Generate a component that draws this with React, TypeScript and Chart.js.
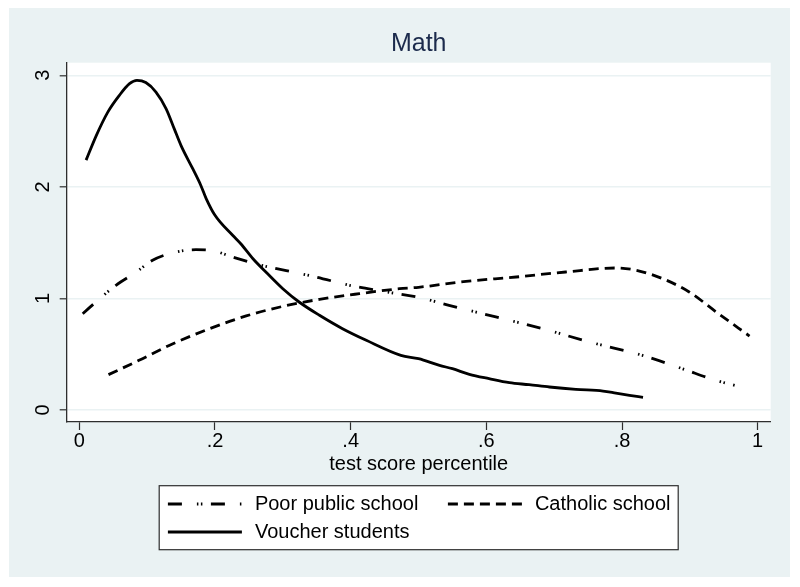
import React, { useEffect, useRef } from 'react';
import { Chart, registerables } from 'chart.js';

Chart.register(...registerables);

const FONT = "'Liberation Sans', Arial, Helvetica, sans-serif";

const TITLE = 'Math';
const X_TITLE = 'test score percentile';
const X_TICKS = [0, 0.2, 0.4, 0.6, 0.8, 1];
const X_TICK_LABELS = ['0', '.2', '.4', '.6', '.8', '1'];
const Y_TICKS = [0, 1, 2, 3];
const Y_TICK_LABELS = ['0', '1', '2', '3'];
const SERIES_LABELS = ['Poor public school', 'Catholic school', 'Voucher students'];

const poorX = [0.005, 0.03, 0.054, 0.084, 0.108, 0.138, 0.172, 0.197, 0.226, 0.265, 0.305, 0.349, 0.398, 0.447, 0.5, 0.545, 0.614, 0.683, 0.752, 0.83, 0.889, 0.938, 0.966];
const poorY = [0.863, 0.998, 1.118, 1.237, 1.342, 1.41, 1.437, 1.428, 1.371, 1.302, 1.249, 1.192, 1.118, 1.064, 1.01, 0.938, 0.834, 0.729, 0.61, 0.49, 0.37, 0.266, 0.221];

const catholicX = [0.043, 0.088, 0.138, 0.192, 0.246, 0.3, 0.354, 0.413, 0.472, 0.5, 0.57, 0.644, 0.717, 0.791, 0.821, 0.86, 0.899, 0.939, 0.988];
const catholicY = [0.317, 0.445, 0.594, 0.729, 0.843, 0.929, 0.992, 1.043, 1.087, 1.1, 1.153, 1.192, 1.237, 1.273, 1.252, 1.177, 1.058, 0.878, 0.663];

const voucherX = [0.01, 0.025, 0.042, 0.059, 0.074, 0.085, 0.098, 0.113, 0.128, 0.14, 0.15, 0.167, 0.179, 0.187, 0.2, 0.226, 0.238, 0.256, 0.275, 0.3, 0.324, 0.354, 0.388, 0.423, 0.474, 0.5, 0.531, 0.55, 0.575, 0.604, 0.634, 0.663, 0.693, 0.732, 0.772, 0.791, 0.811, 0.831];
const voucherY = [2.24, 2.46, 2.67, 2.82, 2.925, 2.955, 2.935, 2.85, 2.7, 2.52, 2.37, 2.165, 2.015, 1.895, 1.745, 1.566, 1.49, 1.356, 1.237, 1.087, 0.968, 0.849, 0.729, 0.625, 0.49, 0.46, 0.4, 0.37, 0.32, 0.281, 0.245, 0.227, 0.206, 0.185, 0.17, 0.152, 0.132, 0.114];

const LINE_W = 2.8;
const AXIS_COLOR = '#2e2e2e';
const BG = '#eaf2f3';

const toPoints = (xs: number[], ys: number[]) => xs.map((x, i) => ({ x, y: ys[i] }));

const bgPlugin = {
  id: 'stataBg',
  beforeDraw(chart: any) {
    const { ctx, chartArea, width, height } = chart;
    ctx.save();
    ctx.fillStyle = '#ffffff';
    ctx.fillRect(0, 0, width, height);
    ctx.fillStyle = BG;
    ctx.fillRect(9, 8, width - 19, height - 18);
    ctx.fillStyle = '#ffffff';
    ctx.fillRect(chartArea.left, chartArea.top, chartArea.right - chartArea.left, chartArea.bottom - chartArea.top);
    ctx.restore();
  },
};

const titlePlugin = {
  id: 'stataTitle',
  afterDraw(chart: any) {
    const { ctx, chartArea } = chart;
    ctx.save();
    ctx.fillStyle = '#1c2b4c';
    ctx.font = `25px ${FONT}`;
    ctx.textAlign = 'center';
    ctx.textBaseline = 'middle';
    ctx.fillText(TITLE, (chartArea.left + chartArea.right) / 2, chartArea.top - 18.5);
    ctx.restore();
  },
};

const legendPlugin = {
  id: 'stataLegend',
  afterDraw(chart: any) {
    const { ctx, chartArea } = chart;
    const cx = (chartArea.left + chartArea.right) / 2;
    const boxW = 519;
    const boxH = 64;
    const left = cx - boxW / 2;
    const top = chartArea.bottom + 63.7;
    ctx.save();
    ctx.fillStyle = '#ffffff';
    ctx.fillRect(left, top, boxW, boxH);
    ctx.strokeStyle = AXIS_COLOR;
    ctx.lineWidth = 1.2;
    ctx.setLineDash([]);
    ctx.strokeRect(left, top, boxW, boxH);
    chart.data.datasets.forEach((ds: any, i: number) => {
      const col = i % 2;
      const row = Math.floor(i / 2);
      const x0 = left + 8.7 + col * 280;
      const y = top + 18.3 + row * 28;
      ctx.setLineDash(ds.borderDash || []);
      ctx.lineDashOffset = 0;
      ctx.lineWidth = ds.borderWidth;
      ctx.strokeStyle = ds.borderColor;
      ctx.lineCap = 'butt';
      ctx.beginPath();
      ctx.moveTo(x0, y);
      ctx.lineTo(x0 + 74, y);
      ctx.stroke();
      ctx.setLineDash([]);
      ctx.fillStyle = '#000000';
      ctx.font = `20px ${FONT}`;
      ctx.textAlign = 'left';
      ctx.textBaseline = 'middle';
      ctx.fillText(ds.label, x0 + 87, y);
    });
    ctx.restore();
  },
};

export default function App() {
  const canvasRef = useRef<HTMLCanvasElement | null>(null);

  useEffect(() => {
    if (!canvasRef.current) return;
    const chart = new Chart(canvasRef.current, {
      type: 'line',
      data: {
        datasets: [
          {
            label: SERIES_LABELS[0],
            data: toPoints(poorX, poorY),
            borderColor: '#000000',
            borderWidth: LINE_W,
            borderDash: [14, 15, 1.5, 2.5, 1.5, 8.5],
            borderCapStyle: 'butt',
            cubicInterpolationMode: 'monotone',
            pointRadius: 0,
            fill: false,
          },
          {
            label: SERIES_LABELS[1],
            data: toPoints(catholicX, catholicY),
            borderColor: '#000000',
            borderWidth: LINE_W,
            borderDash: [10, 6],
            borderCapStyle: 'butt',
            cubicInterpolationMode: 'monotone',
            pointRadius: 0,
            fill: false,
          },
          {
            label: SERIES_LABELS[2],
            data: toPoints(voucherX, voucherY),
            borderColor: '#000000',
            borderWidth: LINE_W,
            borderDash: [],
            borderCapStyle: 'butt',
            cubicInterpolationMode: 'monotone',
            pointRadius: 0,
            fill: false,
          },
        ] as any,
      },
      options: {
        animation: false,
        responsive: false,
        devicePixelRatio: 1,
        layout: { padding: { left: 0, top: 62.7, right: 29.3, bottom: 111 } },
        plugins: {
          legend: { display: false },
          title: { display: false },
          tooltip: { enabled: false },
        },
        scales: {
          x: {
            type: 'linear',
            min: -0.0186,
            max: 1.0192,
            afterBuildTicks: (s: any) => {
              s.ticks = X_TICKS.map((v) => ({ value: v }));
            },
            afterFit: (s: any) => {
              s.height = 54;
            },
            ticks: {
              autoSkip: false,
              maxRotation: 0,
              minRotation: 0,
              padding: -1,
              color: '#000000',
              font: { family: FONT, size: 20 },
              callback: (_v: any, i: number) => X_TICK_LABELS[i],
            },
            grid: {
              display: true,
              drawOnChartArea: false,
              drawTicks: true,
              tickLength: 8,
              tickColor: AXIS_COLOR,
              tickWidth: 1.2,
            },
            border: { display: true, color: AXIS_COLOR, width: 1.3 },
            title: {
              display: true,
              text: X_TITLE,
              color: '#000000',
              font: { family: FONT, size: 20 },
              padding: { top: 0, bottom: 0 },
            },
          },
          y: {
            type: 'linear',
            min: -0.1076,
            max: 3.113,
            afterBuildTicks: (s: any) => {
              s.ticks = Y_TICKS.map((v) => ({ value: v }));
            },
            afterFit: (s: any) => {
              s.width = 66.7;
            },
            ticks: {
              autoSkip: false,
              minRotation: 90,
              maxRotation: 90,
              crossAlign: 'center',
              padding: 10.5,
              color: '#000000',
              font: { family: FONT, size: 20 },
              callback: (_v: any, i: number) => Y_TICK_LABELS[i],
            },
            grid: {
              display: true,
              drawOnChartArea: true,
              color: BG,
              lineWidth: 1.6,
              drawTicks: true,
              tickLength: 7,
              tickColor: AXIS_COLOR,
              tickWidth: 1.2,
            },
            border: { display: true, color: AXIS_COLOR, width: 1.3 },
          },
        },
      } as any,
      plugins: [bgPlugin, titlePlugin, legendPlugin],
    });
    return () => chart.destroy();
  }, []);

  return (
    <div style={{ position: 'fixed', left: 0, top: 0, width: 800, height: 587, background: '#ffffff' }}>
      <canvas ref={canvasRef} width={800} height={587} style={{ display: 'block', width: 800, height: 587 }} />
    </div>
  );
}
